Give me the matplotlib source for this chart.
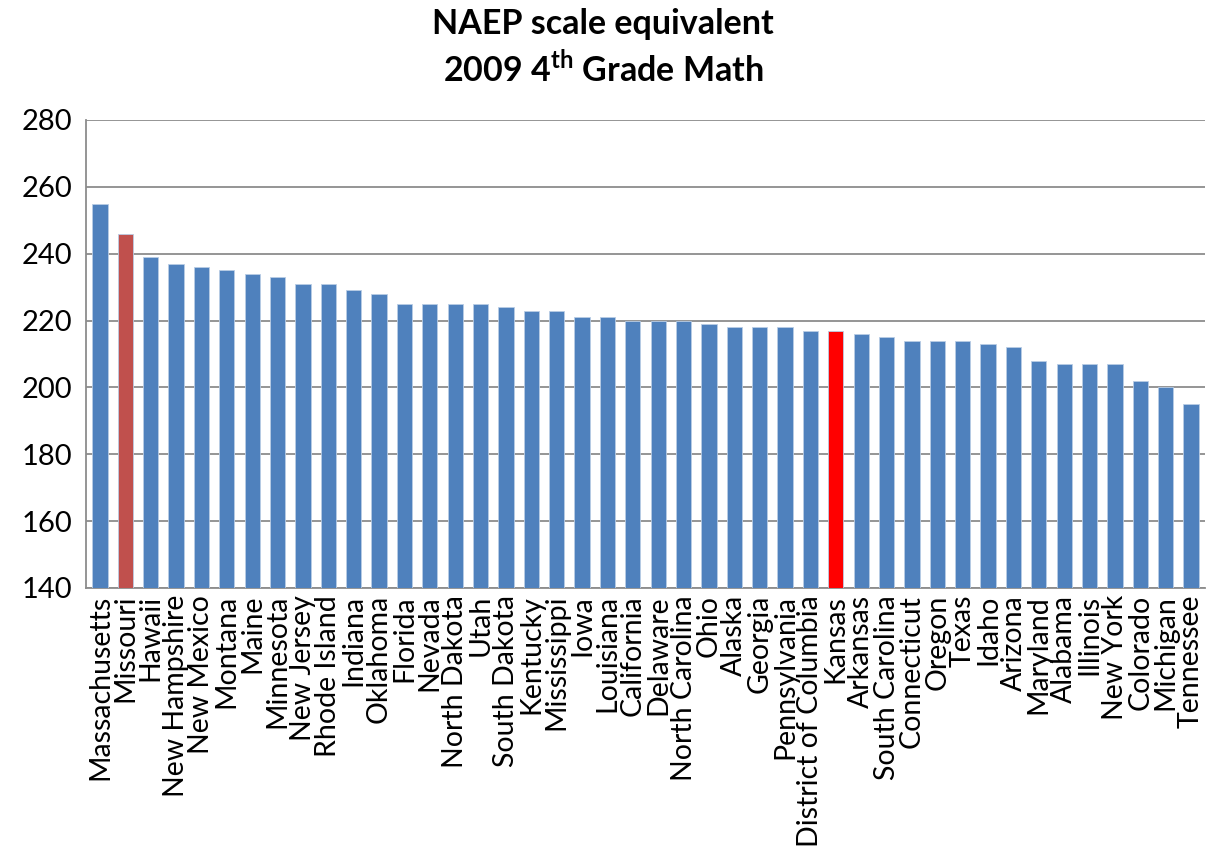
import matplotlib
matplotlib.use('Agg')
import matplotlib.pyplot as plt
import numpy as np

states = ['Massachusetts', 'Missouri', 'Hawaii', 'New Hampshire', 'New Mexico', 'Montana',
          'Maine', 'Minnesota', 'New Jersey', 'Rhode Island', 'Indiana', 'Oklahoma',
          'Florida', 'Nevada', 'North Dakota', 'Utah', 'South Dakota', 'Kentucky',
          'Mississippi', 'Iowa', 'Louisiana', 'California', 'Delaware', 'North Carolina',
          'Ohio', 'Alaska', 'Georgia', 'Pennsylvania', 'District of Columbia', 'Kansas',
          'Arkansas', 'South Carolina', 'Connecticut', 'Oregon', 'Texas', 'Idaho',
          'Arizona', 'Maryland', 'Alabama', 'Illinois', 'New York', 'Colorado',
          'Michigan', 'Tennessee']
scores = [255, 246, 239, 237, 236, 235,
          234, 233, 231, 231, 229, 228,
          225, 225, 225, 225, 224, 223,
          223, 221, 221, 220, 220, 220,
          219, 218, 218, 218, 217, 217,
          216, 215, 214, 214, 214, 213,
          212, 208, 207, 207, 207, 202,
          200, 195]
highlight = {'Missouri': '#C0504D', 'Kansas': '#FF0000'}

plt.rcParams['font.family'] = ['Lato', 'DejaVu Sans']
plt.rcParams['mathtext.fontset'] = 'custom'
plt.rcParams['mathtext.bf'] = 'Lato:bold'
plt.rcParams['mathtext.rm'] = 'Lato'

fig = plt.figure(figsize=(12.14, 8.6), dpi=100)
ax = fig.add_axes([86/1214, 1-588/860, 1119/1214, 468/860])

colors = [highlight.get(s, '#4F81BD') for s in states]
x = np.arange(len(states))
ax.bar(x, np.array(scores) - 140, bottom=140, width=0.6, color=colors,
       edgecolor='#B9CDE5', linewidth=0.6, zorder=3)

ax.set_ylim(140, 280)
ax.set_xlim(-0.55, len(states) - 0.45)
ax.set_yticks(range(140, 281, 20))
ax.yaxis.grid(True, color='#8C8C8C', lw=1.3, zorder=0)
ax.set_xticks(x)
ax.set_xticklabels(states, rotation=90, fontsize=20.5)
ax.tick_params(axis='y', labelsize=21, length=0, pad=10)
ax.tick_params(axis='x', length=0, pad=5)
for s in ['top', 'right']:
    ax.spines[s].set_visible(False)
ax.spines['left'].set_color('#8C8C8C')
ax.spines['bottom'].set_color('#8C8C8C')
ax.spines['left'].set_linewidth(1.3)
ax.spines['bottom'].set_linewidth(1.3)

fig.text(0.497, 1-24/860, 'NAEP scale equivalent', ha='center', va='center',
         fontsize=24.5, fontweight='bold')
fig.text(0.497, 1-70/860, r'2009 4$^{\mathbf{th}}$ Grade Math', ha='center',
         va='center', fontsize=24.5, fontweight='bold')

fig.savefig('out.png', dpi=100)
